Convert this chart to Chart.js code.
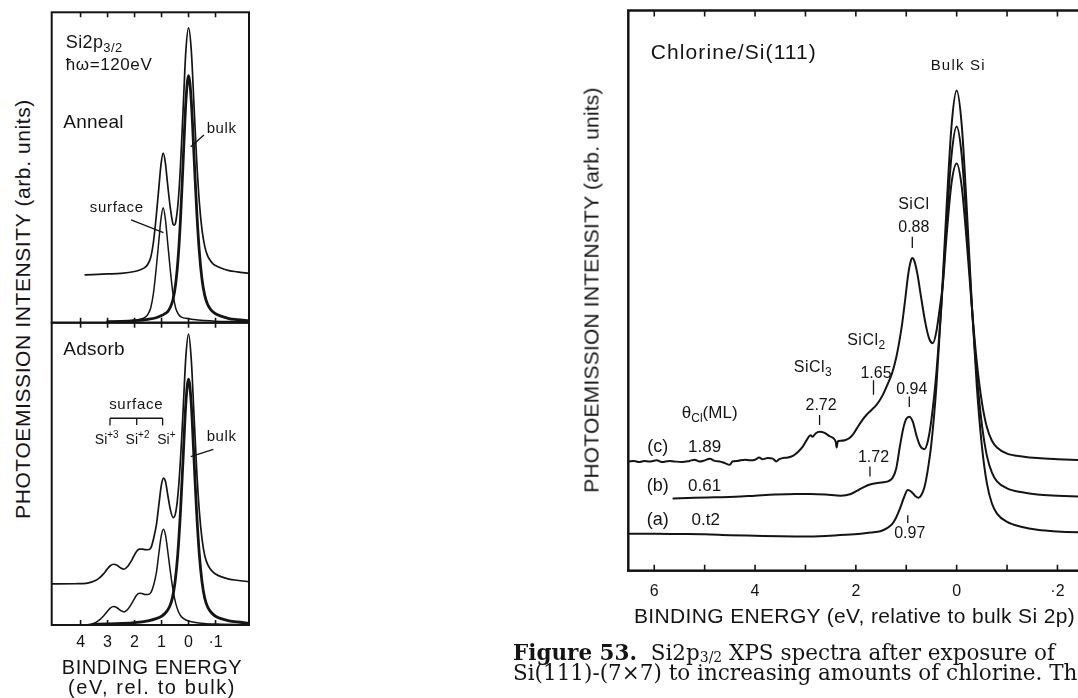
<!DOCTYPE html>
<html>
<head>
<meta charset="utf-8">
<script src="https://cdn.jsdelivr.net/npm/chart.js@4.4.1/dist/chart.umd.min.js"></script>
<style>
  html, body { margin: 0; padding: 0; background: #fff; width: 1078px; height: 698px; overflow: hidden; }
  canvas { position: absolute; }
  .t { position: absolute; font-family: "Liberation Sans", Arial, sans-serif; color: #141414; white-space: nowrap; line-height: 1; }
  .c { transform: translate(-50%, -50%); }
  .v { transform: translate(-50%, -50%) rotate(-90deg); }
  .cap { position: absolute; left: 513px; font-family: "DejaVu Serif", serif; font-size: 21.5px; color: #141414; white-space: nowrap; line-height: 20px; z-index: 2; }
  .cap sub { font-size: 14px; vertical-align: -2px; line-height: 0; }
</style>
</head>
<body>
<canvas id="cvAnneal" width="230" height="330" style="left:40px;top:0px"></canvas>
<canvas id="cvAdsorb" width="230" height="383" style="left:40px;top:315px"></canvas>
<canvas id="cvCl" width="540" height="698" style="left:560px;top:0px"></canvas>

<div class="t v" style="left:22px;top:309px;font-size:21px;letter-spacing:0.6px">PHOTOEMISSION INTENSITY (arb. units)</div>
<div class="t c" style="left:152px;top:667px;font-size:20px;letter-spacing:0.5px">BINDING ENERGY</div>
<div class="t c" style="left:152px;top:687px;font-size:20px;letter-spacing:1.6px">(eV, rel. to bulk)</div>

<div class="t v" style="left:591px;top:290px;font-size:21px;letter-spacing:0.2px">PHOTOEMISSION INTENSITY (arb. units)</div>
<div class="t" style="left:634px;top:605px;font-size:21px;letter-spacing:0.35px">BINDING ENERGY (eV, relative to bulk Si 2p)</div>

<div class="cap" style="top:642.5px"><b>Figure 53.</b>&nbsp; Si2p<sub>3/2</sub> XPS spectra after exposure of</div>
<div class="cap" style="top:663px">Si(111)-(7×7) to increasing amounts of chlorine. The</div>

<script>
// ---- Si 2p3/2 spectra: [binding energy (eV, rel. to bulk), intensity (arb.)] ----

// Anneal panel
const annealTotal = [[3.83,15.4],[3.0,15.7],[2.5,15.9],[2.0,16.5],[1.8,17.0],[1.6,17.9],[1.5,19.0],[1.4,21.1],[1.3,26.0],[1.2,34.0],[1.1,43.5],[1.02,51.0],[0.94,54.6],[0.86,51.6],[0.78,45.0],[0.68,37.3],[0.58,31.9],[0.53,31.4],[0.48,32.2],[0.38,39.4],[0.3,50.3],[0.2,68.9],[0.1,87.5],[0,95.0],[-0.1,88.0],[-0.2,70.5],[-0.3,52.6],[-0.4,38.8],[-0.5,29.8],[-0.6,24.6],[-0.7,21.7],[-0.8,20.1],[-0.9,19.0],[-1.0,18.4],[-1.2,17.6],[-1.5,16.8],[-1.8,16.4],[-2.24,15.9]];
const annealBulk = [[3.0,0.3],[2.5,0.4],[2.0,0.65],[1.5,1.1],[1.2,1.6],[1.0,2.3],[0.86,3.0],[0.78,3.5],[0.68,4.9],[0.58,7.3],[0.48,12.3],[0.38,21.5],[0.3,33.0],[0.2,52.0],[0.1,71.0],[0,79.6],[-0.1,71.7],[-0.2,54.3],[-0.3,36.5],[-0.4,22.8],[-0.5,13.9],[-0.6,8.8],[-0.7,6.0],[-0.8,4.5],[-0.9,3.5],[-1.0,2.9],[-1.2,2.1],[-1.5,1.35],[-1.8,1.0],[-2.24,0.6]];
const annealSurface = [[3.0,0.3],[2.4,0.5],[2.0,0.8],[1.8,1.1],[1.6,1.8],[1.5,2.8],[1.4,4.8],[1.3,9.5],[1.2,17.3],[1.1,26.4],[1.02,33.5],[0.94,37.0],[0.86,33.5],[0.78,26.4],[0.68,17.3],[0.58,9.5],[0.48,4.8],[0.38,2.8],[0.28,1.9],[0.1,1.4],[-0.2,1.0],[-0.6,0.7],[-1.0,0.5],[-1.6,0.35],[-2.24,0.25]];

// Adsorb panel
const adsorbTotal = [[5.07,13.6],[4.2,13.65],[3.8,13.8],[3.6,14.2],[3.45,14.7],[3.3,15.6],[3.15,16.9],[3.02,18.4],[2.9,19.6],[2.78,20.1],[2.65,19.75],[2.52,18.9],[2.39,18.45],[2.25,19.45],[2.12,21.2],[2.02,22.9],[1.92,24.4],[1.82,25.1],[1.72,25.1],[1.61,24.95],[1.5,24.9],[1.39,25.6],[1.29,28.8],[1.19,33.2],[1.09,40.5],[1.01,46.1],[0.93,48.6],[0.85,47.3],[0.77,43.0],[0.67,38.0],[0.57,35.5],[0.47,37.5],[0.37,45.4],[0.27,59.2],[0.2,71.2],[0.1,88.7],[0,96.2],[-0.1,88.0],[-0.2,70.0],[-0.3,51.7],[-0.4,37.6],[-0.5,28.4],[-0.6,23.0],[-0.7,20.2],[-0.8,18.6],[-0.9,17.6],[-1.0,16.9],[-1.2,16.0],[-1.5,15.2],[-1.8,14.8],[-2.24,14.3]];
const adsorbBulk = [[3.5,0.25],[3.0,0.35],[2.5,0.5],[2.0,0.78],[1.5,1.4],[1.2,2.1],[1.0,2.9],[0.9,3.6],[0.8,4.6],[0.7,6.1],[0.6,8.9],[0.5,14.2],[0.4,23.3],[0.3,37.3],[0.2,55.4],[0.1,73.3],[0,81.3],[-0.1,73.3],[-0.2,55.4],[-0.3,37.3],[-0.4,23.3],[-0.5,14.2],[-0.6,8.9],[-0.7,6.1],[-0.8,4.6],[-0.9,3.6],[-1.0,2.9],[-1.2,2.1],[-1.5,1.4],[-1.8,1.0],[-2.24,0.6]];
const adsorbSurface = [[3.75,0.1],[3.6,0.3],[3.45,0.8],[3.3,1.7],[3.15,3.0],[3.02,4.4],[2.9,5.6],[2.78,6.1],[2.65,5.7],[2.52,4.8],[2.39,4.3],[2.25,5.2],[2.12,6.9],[2.02,8.5],[1.92,9.9],[1.82,10.5],[1.72,10.4],[1.61,10.1],[1.5,10.1],[1.39,10.8],[1.29,13.3],[1.19,17.4],[1.09,24.4],[1.01,29.6],[0.93,31.7],[0.85,29.6],[0.77,24.4],[0.67,17.4],[0.57,11.3],[0.47,7.0],[0.37,4.3],[0.27,2.8],[0.17,2.0],[0.07,1.55],[-0.07,1.15],[-0.37,0.7],[-1.07,0.3],[-2.24,0.13]];

// Chlorine/Si(111) panel, offset spectra (a) 0.12, (b) 0.61, (c) 1.89 ML
const clSpectrumA = [[6.515,6.6],[6.0,6.6],[5.5,6.55],[5.0,6.5],[4.5,6.35],[4.0,6.25],[3.5,6.15],[3.0,6.1],[2.6,6.2],[2.2,6.4],[1.9,6.6],[1.7,6.8],[1.5,7.1],[1.38,7.6],[1.28,8.3],[1.2,9.5],[1.12,11.2],[1.04,13.2],[0.97,14.4],[0.9,14.1],[0.83,13.4],[0.76,13.0],[0.7,13.5],[0.64,14.9],[0.58,17.6],[0.5,22.8],[0.4,33.2],[0.3,47.9],[0.2,64.9],[0.1,79.6],[0,85.7],[-0.1,79.6],[-0.2,64.8],[-0.3,47.7],[-0.4,32.9],[-0.5,22.3],[-0.6,15.6],[-0.7,12.0],[-0.8,10.2],[-1.0,8.7],[-1.3,7.8],[-1.6,7.3],[-2.0,7.0],[-2.6,6.8]];
const clSpectrumB = [[5.62,12.9],[5.2,13.0],[4.8,13.1],[4.4,13.2],[4.0,13.4],[3.6,13.6],[3.2,13.7],[2.9,13.7],[2.6,13.6],[2.3,13.4],[2.1,13.7],[1.95,14.4],[1.8,15.1],[1.72,15.4],[1.6,15.6],[1.45,15.8],[1.35,16.0],[1.27,16.6],[1.2,18.2],[1.13,22.0],[1.06,25.4],[1.0,27.1],[0.94,27.5],[0.87,26.6],[0.8,24.2],[0.72,22.2],[0.64,21.7],[0.57,23.2],[0.5,27.0],[0.4,35.6],[0.3,47.8],[0.2,62.0],[0.1,74.3],[0,79.3],[-0.1,74.2],[-0.2,61.8],[-0.3,47.4],[-0.4,35.0],[-0.5,26.1],[-0.6,20.5],[-0.7,17.5],[-0.8,15.95],[-1.0,14.7],[-1.3,14.0],[-1.6,13.6],[-2.0,13.4],[-2.6,13.2]];
const clSpectrumC = [[6.515,19.5],[6.4,19.6],[6.3,19.4],[6.2,19.6],[6.1,19.5],[5.95,19.7],[5.85,19.4],[5.7,19.6],[5.6,19.5],[5.45,19.4],[5.3,19.6],[5.2,19.8],[5.1,19.5],[5.0,19.7],[4.9,20.0],[4.8,19.6],[4.7,19.5],[4.6,19.2],[4.5,18.9],[4.45,19.5],[4.35,19.6],[4.2,19.8],[4.1,19.7],[4.0,19.8],[3.92,20.2],[3.85,19.9],[3.75,20.1],[3.65,20.0],[3.58,19.5],[3.52,19.9],[3.45,20.1],[3.35,20.2],[3.25,20.5],[3.15,21.2],[3.05,22.2],[2.97,23.4],[2.9,24.2],[2.86,23.9],[2.8,24.5],[2.72,24.8],[2.62,24.6],[2.52,24.0],[2.44,23.6],[2.4,23.0],[2.38,22.0],[2.36,23.1],[2.3,23.2],[2.22,23.3],[2.14,23.6],[2.06,24.3],[1.98,25.4],[1.88,26.8],[1.79,27.8],[1.7,28.6],[1.59,29.6],[1.47,31.3],[1.36,33.5],[1.28,35.3],[1.2,38.0],[1.14,40.8],[1.08,44.2],[1.02,48.5],[0.96,53.0],[0.91,55.3],[0.88,55.8],[0.84,55.3],[0.78,53.0],[0.7,48.5],[0.62,44.2],[0.54,41.3],[0.47,40.6],[0.4,42.8],[0.33,47.2],[0.27,51.5],[0.2,59.8],[0.1,69.3],[0,72.7],[-0.1,68.6],[-0.2,58.7],[-0.3,47.2],[-0.4,37.2],[-0.5,30.1],[-0.6,25.6],[-0.7,23.2],[-0.8,22.0],[-1.0,20.9],[-1.3,20.4],[-1.6,20.1],[-2.0,19.9],[-2.6,19.7]];

// Axis ticks
const leftTicks = [4, 3, 2, 1, 0, -1];
const leftTickLabels = ['4', '3', '2', '1', '0', '·1'];
const clTicks = [6, 5, 4, 3, 2, 1, 0, -1, -2];
const clLabelTicks = [6, 4, 2, 0, -2];
const clTickLabels = ['6', '4', '2', '0', '·2'];

// Peak positions marked in the chlorine panel (eV)
const clPeakMarks = [[0.88, 59.6, 57.6], [1.65, 34.0, 31.4], [0.94, 31.1, 29.2], [2.72, 27.8, 26.0], [1.72, 18.6, 16.8], [0.97, 9.9, 8.5]];

const INK = '#141414';
const SANS = '"Liberation Sans", Arial, sans-serif';

// Text with _{sub} / ^{sup} parts
function drawRich(ctx, text, px, py, size, align, bold, ls) {
  const parts = [];
  const re = /([_^])\{([^}]*)\}/g;
  let last = 0, m;
  while ((m = re.exec(text))) {
    if (m.index > last) parts.push([text.slice(last, m.index), 0]);
    parts.push([m[2], m[1] === '_' ? 1 : 2]);
    last = re.lastIndex;
  }
  if (last < text.length) parts.push([text.slice(last), 0]);
  const fontFor = k => `${bold ? 'bold ' : ''}${k ? Math.round(size * 0.72) : size}px ${SANS}`;
  if ('letterSpacing' in ctx) ctx.letterSpacing = (ls || 0) + 'px';
  let w = 0;
  for (const [s, k] of parts) { ctx.font = fontFor(k); w += ctx.measureText(s).width; }
  let x = align === 'center' ? px - w / 2 : px;
  ctx.textAlign = 'left';
  ctx.textBaseline = 'middle';
  for (const [s, k] of parts) {
    ctx.font = fontFor(k);
    const dy = k === 1 ? size * 0.32 : k === 2 ? -size * 0.36 : 0;
    ctx.fillText(s, x, py + dy);
    x += ctx.measureText(s).width;
  }
  if ('letterSpacing' in ctx) ctx.letterSpacing = '0px';
}

// Frame, inward ticks, tick labels, notes and leader lines
function decoPlugin(d) {
  return {
    id: 'deco',
    afterDatasetsDraw(chart) {
      const { ctx, chartArea: a, scales: { x, y } } = chart;
      ctx.save();
      ctx.strokeStyle = INK;
      ctx.fillStyle = INK;
      ctx.lineCap = 'butt';
      ctx.lineWidth = d.frameWidth;
      ctx.strokeRect(a.left, a.top, a.right - a.left, a.bottom - a.top);
      ctx.lineWidth = 1.6;
      ctx.beginPath();
      for (const v of d.ticks) {
        const px = x.getPixelForValue(v);
        ctx.moveTo(px, a.top); ctx.lineTo(px, a.top + d.tickLen);
        ctx.moveTo(px, a.bottom); ctx.lineTo(px, a.bottom - d.tickLen);
      }
      ctx.stroke();
      if (d.labelTicks) {
        d.labelTicks.forEach((v, i) => {
          drawRich(ctx, d.tickLabels[i], x.getPixelForValue(v), a.bottom + d.labelGap, d.labelSize, 'center', false, 0);
        });
      }
      ctx.lineWidth = 1.3;
      ctx.beginPath();
      for (const [x0, y0, x1, y1] of (d.lines || [])) {
        ctx.moveTo(x.getPixelForValue(x0), y.getPixelForValue(y0));
        ctx.lineTo(x.getPixelForValue(x1), y.getPixelForValue(y1));
      }
      for (const [xv, y0, y1] of (d.marks || [])) {
        ctx.moveTo(x.getPixelForValue(xv), y.getPixelForValue(y0));
        ctx.lineTo(x.getPixelForValue(xv), y.getPixelForValue(y1));
      }
      ctx.stroke();
      for (const n of (d.notes || [])) {
        drawRich(ctx, n.t, x.getPixelForValue(n.x), y.getPixelForValue(n.y), n.size, n.align || 'left', n.bold, n.ls);
      }
      ctx.restore();
    }
  };
}

function spectrumChart(id, series, xRange, pad, deco) {
  return new Chart(document.getElementById(id), {
    type: 'line',
    data: {
      datasets: series.map(s => ({
        data: s.pts.map(([x, y]) => ({ x, y })),
        borderColor: INK,
        borderWidth: s.w,
        pointRadius: 0,
        fill: false,
        cubicInterpolationMode: 'monotone',
        borderJoinStyle: 'round',
        borderCapStyle: 'round'
      }))
    },
    options: {
      responsive: false,
      animation: false,
      devicePixelRatio: 1,
      events: [],
      layout: { padding: pad },
      plugins: { legend: { display: false }, tooltip: { enabled: false } },
      scales: {
        x: { type: 'linear', reverse: true, min: xRange[0], max: xRange[1], display: false },
        y: { type: 'linear', min: 0, max: 100, display: false }
      }
    },
    plugins: [decoPlugin(deco)]
  });
}

const leftRange = [-2.24, 5.07];

spectrumChart('cvAnneal', [
  { pts: annealTotal, w: 1.7 },
  { pts: annealSurface, w: 1.5 },
  { pts: annealBulk, w: 2.8 }
], leftRange, { left: 11.7, top: 12.3, right: 21, bottom: 7.3 }, {
  frameWidth: 2, ticks: leftTicks, tickLen: 5,
  notes: [
    { t: 'Si2p_{3/2}', x: 4.55, y: 90.1, size: 18, ls: 0.4 },
    { t: 'ħω=120eV', x: 4.55, y: 83.0, size: 17, ls: 0.6 },
    { t: 'Anneal', x: 4.64, y: 64.4, size: 19, ls: 0.2 },
    { t: 'bulk', x: -0.67, y: 62.6, size: 15, ls: 0.6 },
    { t: 'surface', x: 2.66, y: 36.9, size: 15, align: 'center', ls: 0.7 }
  ],
  lines: [[-0.57, 60.5, -0.08, 56.7], [2.13, 33.1, 0.93, 29.0]]
});

spectrumChart('cvAdsorb', [
  { pts: adsorbTotal, w: 1.7 },
  { pts: adsorbSurface, w: 1.5 },
  { pts: adsorbBulk, w: 2.8 }
], leftRange, { left: 11.7, top: 7.7, right: 21, bottom: 73 }, {
  frameWidth: 2, ticks: leftTicks, tickLen: 5,
  labelTicks: leftTicks, tickLabels: leftTickLabels, labelGap: 18, labelSize: 16,
  notes: [
    { t: 'Adsorb', x: 4.64, y: 91.0, size: 19, ls: 0.2 },
    { t: 'surface', x: 1.94, y: 72.8, size: 15, align: 'center', ls: 0.7 },
    { t: 'Si^{+3}', x: 3.03, y: 61.2, size: 14, align: 'center' },
    { t: 'Si^{+2}', x: 1.89, y: 61.2, size: 14, align: 'center' },
    { t: 'Si^{+}', x: 0.82, y: 61.2, size: 14, align: 'center' },
    { t: 'bulk', x: -0.67, y: 62.3, size: 15, ls: 0.6 }
  ],
  lines: [[2.91, 68.4, 0.96, 68.4], [2.91, 68.4, 2.91, 66.0], [0.96, 68.4, 0.96, 66.0], [1.92, 68.4, 1.92, 66.2],
          [-0.92, 58.1, -0.08, 55.7]]
});

spectrumChart('cvCl', [
  { pts: clSpectrumA, w: 2 },
  { pts: clSpectrumB, w: 2 },
  { pts: clSpectrumC, w: 2 }
], [-2.6, 6.515], { left: 68.3, top: 10.5, right: 12.3, bottom: 127.3 }, {
  frameWidth: 2.5, ticks: clTicks, tickLen: 6,
  labelTicks: clLabelTicks, tickLabels: clTickLabels, labelGap: 21, labelSize: 16,
  marks: clPeakMarks,
  notes: [
    { t: 'Chlorine/Si(111)', x: 6.07, y: 92.4, size: 21, ls: 1.1 },
    { t: 'Bulk Si', x: -0.03, y: 90.1, size: 15, align: 'center', ls: 1.2 },
    { t: 'SiCl', x: 0.85, y: 65.4, size: 16, align: 'center', ls: 0.5 },
    { t: '0.88', x: 0.85, y: 61.2, size: 16, align: 'center' },
    { t: 'SiCl_{2}', x: 1.79, y: 41.0, size: 16, align: 'center', ls: 0.5 },
    { t: 'SiCl_{3}', x: 2.85, y: 36.3, size: 16, align: 'center', ls: 0.5 },
    { t: '1.65', x: 1.6, y: 35.1, size: 16, align: 'center' },
    { t: '0.94', x: 0.89, y: 32.4, size: 16, align: 'center' },
    { t: '2.72', x: 2.69, y: 29.4, size: 16, align: 'center' },
    { t: 'θ_{Cl}(ML)', x: 4.9, y: 28.1, size: 17, align: 'center' },
    { t: '(c)', x: 5.93, y: 22.1, size: 18, align: 'center' },
    { t: '1.89', x: 5.0, y: 22.1, size: 17, align: 'center' },
    { t: '1.72', x: 1.65, y: 20.2, size: 16, align: 'center' },
    { t: '(b)', x: 5.93, y: 15.1, size: 18, align: 'center' },
    { t: '0.61', x: 5.0, y: 15.1, size: 17, align: 'center' },
    { t: '(a)', x: 5.93, y: 9.0, size: 18, align: 'center' },
    { t: '0.t2', x: 4.98, y: 9.0, size: 17, align: 'center' },
    { t: '0.97', x: 0.93, y: 6.55, size: 16, align: 'center' }
  ]
});
</script>
</body>
</html>
